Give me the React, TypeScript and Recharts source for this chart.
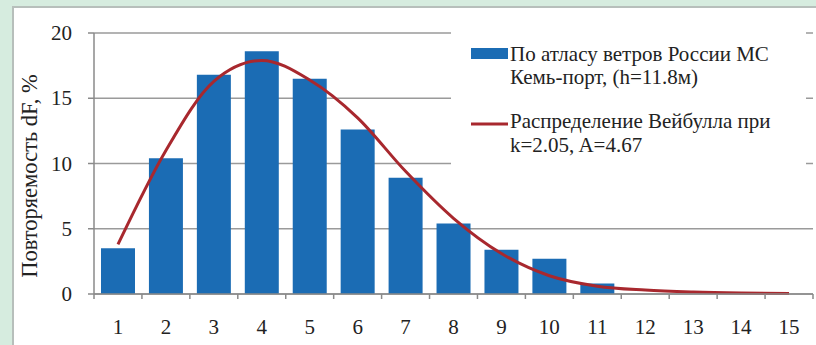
import React from 'react';
import { ComposedChart, Bar, Line, XAxis, YAxis, CartesianGrid, Legend } from 'recharts';

const categories = ['1', '2', '3', '4', '5', '6', '7', '8', '9', '10', '11', '12', '13', '14', '15'];
const atlasValues = [3.5, 10.4, 16.8, 18.6, 16.5, 12.6, 8.9, 5.4, 3.4, 2.7, 0.8, 0, 0, 0, 0];
const weibullValues = [3.8, 11.0, 16.3, 17.9, 16.4, 13.5, 9.4, 5.8, 3.1, 1.4, 0.6, 0.3, 0.15, 0.07, 0.03];
const yTicks = [0, 5, 10, 15, 20];
const atlasLines = ['По атласу ветров России МС', 'Кемь-порт, (h=11.8м)'];
const weibullLines = ['Распределение Вейбулла при', 'k=2.05, A=4.67'];
const yLabel = 'Повторяемость dF, %';

const data = categories.map((c, i) => ({ cat: c, atlas: atlasValues[i], weibull: weibullValues[i] }));

const FONT = 'Liberation Serif, Times New Roman, DejaVu Serif, serif';
const TEXT = '#222222';
const AXIS = '#8a8a8a';
const BAR = '#1b6cb4';
const LINE = '#a8282e';

const XTick = (props: any) => {
  const { x, y, payload, index, visibleTicksCount } = props;
  const half = payload && payload.offset ? payload.offset : 24;
  const last = index === (visibleTicksCount ?? categories.length) - 1;
  return (
    <g>
      <line x1={x - half} y1={y} x2={x - half} y2={y + 5} stroke={AXIS} strokeWidth={1.5} />
      {last && <line x1={x + half} y1={y} x2={x + half} y2={y + 5} stroke={AXIS} strokeWidth={1.5} />}
      <text x={x} y={y + 40} textAnchor="middle" style={{ fontFamily: FONT }} fontSize={21} fill={TEXT}>
        {payload.value}
      </text>
    </g>
  );
};

const YTick = (props: any) => {
  const { x, y, payload } = props;
  return (
    <text x={x} y={y + 7} textAnchor="end" style={{ fontFamily: FONT }} fontSize={21} fill={TEXT}>
      {payload.value}
    </text>
  );
};

const LegendContent = (props: any) => {
  const payload = props.payload || [];
  const bar = payload.find((p: any) => p.dataKey === 'atlas');
  const line = payload.find((p: any) => p.dataKey === 'weibull');
  return (
    <svg width={355} height={140} style={{ display: 'block' }}>
      <rect x={20} y={21} width={37} height={11} fill={bar ? bar.color : BAR} />
      <text style={{ fontFamily: FONT }} fontSize={21} fill={TEXT}>
        <tspan x={59} y={34}>{atlasLines[0]}</tspan>
        <tspan x={59} y={57}>{atlasLines[1]}</tspan>
      </text>
      <line x1={20} y1={97} x2={57} y2={97} stroke={line ? line.color : LINE} strokeWidth={3} />
      <text style={{ fontFamily: FONT }} fontSize={21} fill={TEXT}>
        <tspan x={59} y={101}>{weibullLines[0]}</tspan>
        <tspan x={59} y={125}>{weibullLines[1]}</tspan>
      </text>
    </svg>
  );
};

export default function App() {
  return (
    <div style={{ position: 'absolute', left: 0, top: 0, width: 816, height: 345, background: '#d6ecdf', overflow: 'hidden' }}>
      <div
        style={{
          position: 'absolute',
          left: 12,
          top: 6,
          width: 840,
          height: 380,
          background: '#ffffff',
          border: '2px solid #b7bfbb',
          boxSizing: 'border-box',
        }}
      />
      <div style={{ position: 'absolute', left: 0, top: 0 }}>
        <ComposedChart width={816} height={345} data={data} margin={{ top: 33, right: 3, left: 0, bottom: 0 }}>
          <CartesianGrid vertical={false} stroke="#9a9a9a" strokeWidth={1.5} />
          <XAxis
            dataKey="cat"
            height={51}
            axisLine={{ stroke: AXIS, strokeWidth: 1.5 }}
            tickLine={false}
            tickSize={0}
            tickMargin={0}
            tick={<XTick />}
            interval={0}
          />
          <YAxis
            width={94}
            domain={[0, 20]}
            ticks={yTicks}
            axisLine={{ stroke: AXIS, strokeWidth: 1.5 }}
            tickLine={{ stroke: AXIS, strokeWidth: 1.5 }}
            tickSize={6}
            tickMargin={16}
            tick={<YTick />}
            label={{
              content: () => (
                <text
                  transform="translate(37,176) rotate(-90)"
                  textAnchor="middle"
                  style={{ fontFamily: FONT }}
                  fontSize={22.5}
                  fill={TEXT}
                >
                  {yLabel}
                </text>
              ),
            }}
          />
          <Legend
            layout="horizontal"
            verticalAlign="middle"
            align="center"
            content={<LegendContent />}
            wrapperStyle={{ position: 'absolute', left: 451, top: 27, width: 355, height: 140, background: '#ffffff' }}
          />
          <Bar
            dataKey="atlas"
            name={atlasLines.join(' ')}
            fill={BAR}
            barSize={34}
            isAnimationActive={false}
          />
          <Line
            dataKey="weibull"
            name={weibullLines.join(' ')}
            type="monotone"
            stroke={LINE}
            strokeWidth={3}
            dot={false}
            activeDot={false}
            isAnimationActive={false}
          />
        </ComposedChart>
      </div>
    </div>
  );
}
